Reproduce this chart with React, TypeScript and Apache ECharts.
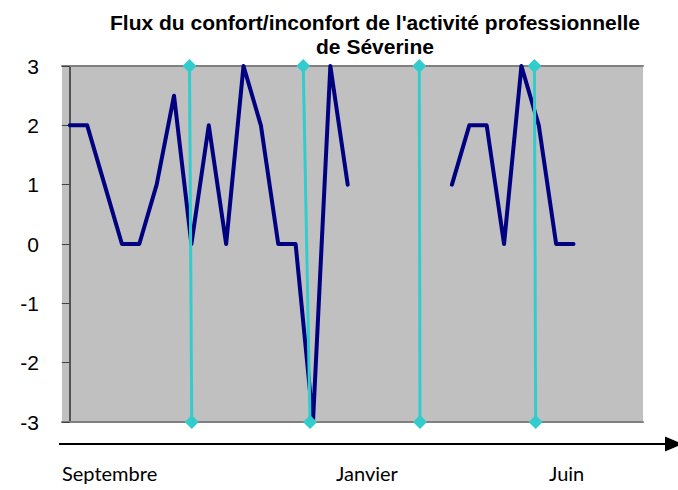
import React, { useEffect, useRef } from "react";
import * as echarts from "echarts";

const titleLines = ["Flux du confort/inconfort de l'activité professionnelle", "de Séverine"];
const yTicks = [-3, -2, -1, 0, 1, 2, 3];
const fluxValues: (number | null)[] = [
  2, 2, 1, 0, 0, 1, 2.5, 0, 2, 0, 3, 2, 0, 0, -3, 3, 1,
  null, null, null, null, null,
  1, 2, 2, 0, 3, 2, 0, 0,
];
const markerTop = [6.89, 13.44, 20.12, 26.75];
const markerBottom = [7.02, 13.83, 20.16, 26.82];
const monthLabels = ["Septembre", "Janvier", "Juin"];
const monthPos = [62, 336, 549];

export default function App() {
  const ref = useRef<HTMLDivElement>(null);
  useEffect(() => {
    document.body.style.margin = "0";
    const chart = echarts.init(ref.current!, null, { renderer: "svg" });
    const cyanSeries = markerTop.map((t, i) => ({
      type: "line",
      data: [
        [t, 3],
        [markerBottom[i], -3],
      ],
      symbol: "diamond",
      symbolSize: 14,
      showSymbol: true,
      clip: false,
      z: 5,
      itemStyle: { color: "#33CCCC" },
      lineStyle: { color: "#33CCCC", width: 3 },
      silent: true,
    }));
    chart.setOption({
      animation: false,
      title: {
        text: titleLines.join("\n"),
        left: 370,
        textAlign: "center",
        top: 5,
        textStyle: {
          fontFamily: "Liberation Sans, Arial, sans-serif",
          fontWeight: "bold",
          fontSize: 21,
          lineHeight: 24,
          color: "#000",
        },
      },
      grid: {
        left: 62,
        right: 35,
        top: 66,
        bottom: 68,
        show: true,
        backgroundColor: "#C0C0C0",
        borderWidth: 0,
      },
      xAxis: [
        {
          type: "value",
          min: -0.45,
          max: 33,
          position: "bottom",
          axisLine: { show: true, onZero: false, lineStyle: { color: "#808080", width: 2 } },
          axisTick: { show: false },
          axisLabel: { show: false },
          splitLine: { show: false },
        },
        {
          type: "value",
          min: -0.45,
          max: 33,
          position: "top",
          axisLine: { show: true, onZero: false, lineStyle: { color: "#808080", width: 2 } },
          axisTick: { show: false },
          axisLabel: { show: false },
          splitLine: { show: false },
        },
      ],
      yAxis: {
        type: "value",
        min: yTicks[0],
        max: yTicks[yTicks.length - 1],
        interval: 1,
        axisLine: { show: true, lineStyle: { color: "#303030", width: 1.5 } },
        axisTick: { show: true, length: 8, lineStyle: { color: "#404040" } },
        axisLabel: {
          fontFamily: "Liberation Sans, Arial, sans-serif",
          fontSize: 21,
          color: "#000",
          margin: 23,
        },
        splitLine: { show: false },
      },
      series: [
        {
          type: "line",
          data: fluxValues.map((v, i) => [i, v === null ? "-" : v]),
          showSymbol: false,
          symbol: "none",
          connectNulls: false,
          lineStyle: { color: "#000080", width: 4, cap: "round", join: "round" },
          z: 3,
          silent: true,
        },
        ...cyanSeries,
      ],
      graphic: [
        {
          type: "line",
          shape: { x1: 59, y1: 444, x2: 668, y2: 444 },
          style: { stroke: "#000", lineWidth: 2 },
        },
        {
          type: "polygon",
          shape: { points: [[665, 436.5], [683, 444], [665, 451.5]] },
          style: { fill: "#000" },
        },
        ...monthLabels.map((m, i) => ({
          type: "text",
          x: monthPos[i],
          y: 473,
          style: {
            text: m,
            fontFamily: "Lato, sans-serif",
            fontSize: 20,
            fill: "#000",
            textVerticalAlign: "middle",
          },
        })),
      ],
    });
    return () => chart.dispose();
  }, []);
  return <div ref={ref} style={{ width: 678, height: 490 }} />;
}
